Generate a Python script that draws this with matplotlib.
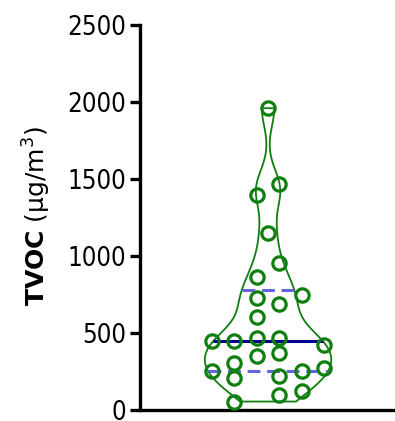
import numpy as np
import matplotlib
matplotlib.use("Agg")
import matplotlib.pyplot as plt

# TVOC values (ug/m3), one per sample
tvoc = [1960, 1470, 1395, 1150, 955, 865, 750, 730, 690, 605,
        470, 470, 445, 445, 425, 370, 350, 305, 270, 255,
        255, 220, 205, 125, 100, 55]
# horizontal swarm slot of each point (in marker columns from the centre)
swarm_slot = [0, 0.5, -0.5, 0, 0.5, -0.5, 1.5, -0.5, 0.5, -0.5,
              -0.5, 0.5, -2.5, -1.5, 2.5, 0.5, -0.5, -1.5, 2.5, -2.5,
              1.5, 0.5, -1.5, 1.5, 0.5, -1.5]
y_ticks = [0, 500, 1000, 1500, 2000, 2500]

GREEN = "#0f7f0f"
MEDIAN_BLUE = "#00008f"
QUART_BLUE = "#6464dc"

plt.rcParams["font.family"] = ["DejaVu Sans"]

fig = plt.figure(figsize=(3.95, 4.21), dpi=100)
ax = fig.add_axes([0.3544, 0.0261, 0.6456, 0.9145])

vals = np.array(tvoc, dtype=float)
bw = 120 / np.std(vals, ddof=1)  # kernel width ~120 ug/m3
parts = ax.violinplot(vals, positions=[0], widths=5.62, bw_method=bw,
                      showextrema=False, points=400)
body = parts["bodies"][0]
body.set_facecolor("none")
body.set_edgecolor(GREEN)
body.set_linewidth(1.3)
body.set_alpha(1)
body.set_zorder(2)

# quartile lines span the violin width at that level
verts = body.get_paths()[0].vertices
q1, med, q3 = np.percentile(vals, [25, 50, 75], method="weibull")


def half_width(level):
    right = verts[verts[:, 0] >= 0]
    order = np.argsort(right[:, 1])
    return np.interp(level, right[order, 1], right[order, 0])


dash = (0, (4.2, 2.2))
for q, col, ls in [(q1, QUART_BLUE, dash), (q3, QUART_BLUE, dash),
                   (med, MEDIAN_BLUE, "-")]:
    hw = half_width(q)
    ax.plot([-hw, hw], [q, q], color=col, lw=2.2, ls=ls, zorder=3,
            solid_capstyle="butt", dash_capstyle="butt")

ax.plot(swarm_slot, tvoc, ls="none", marker="o", ms=9.6, mfc="none",
        mec=GREEN, mew=2.3, zorder=4, clip_on=False)

ax.set_xlim(-5.69, 5.64)
ax.set_ylim(0, 2500)
ax.set_yticks(y_ticks)
ax.set_xticks([])
ax.spines[["top", "right"]].set_visible(False)
for s in ["left", "bottom"]:
    ax.spines[s].set_linewidth(2.4)
ax.tick_params(axis="y", length=7, width=2.4, pad=3, labelsize=18.5)
for lab in ax.get_yticklabels():
    lab.set_fontstretch("condensed")

ax.set_ylabel(r"$\mathbf{TVOC}$ (µg/m$^3$)", fontsize=18)
ax.yaxis.set_label_coords(-0.34, 0.505)

fig.savefig("out.png", dpi=100)
